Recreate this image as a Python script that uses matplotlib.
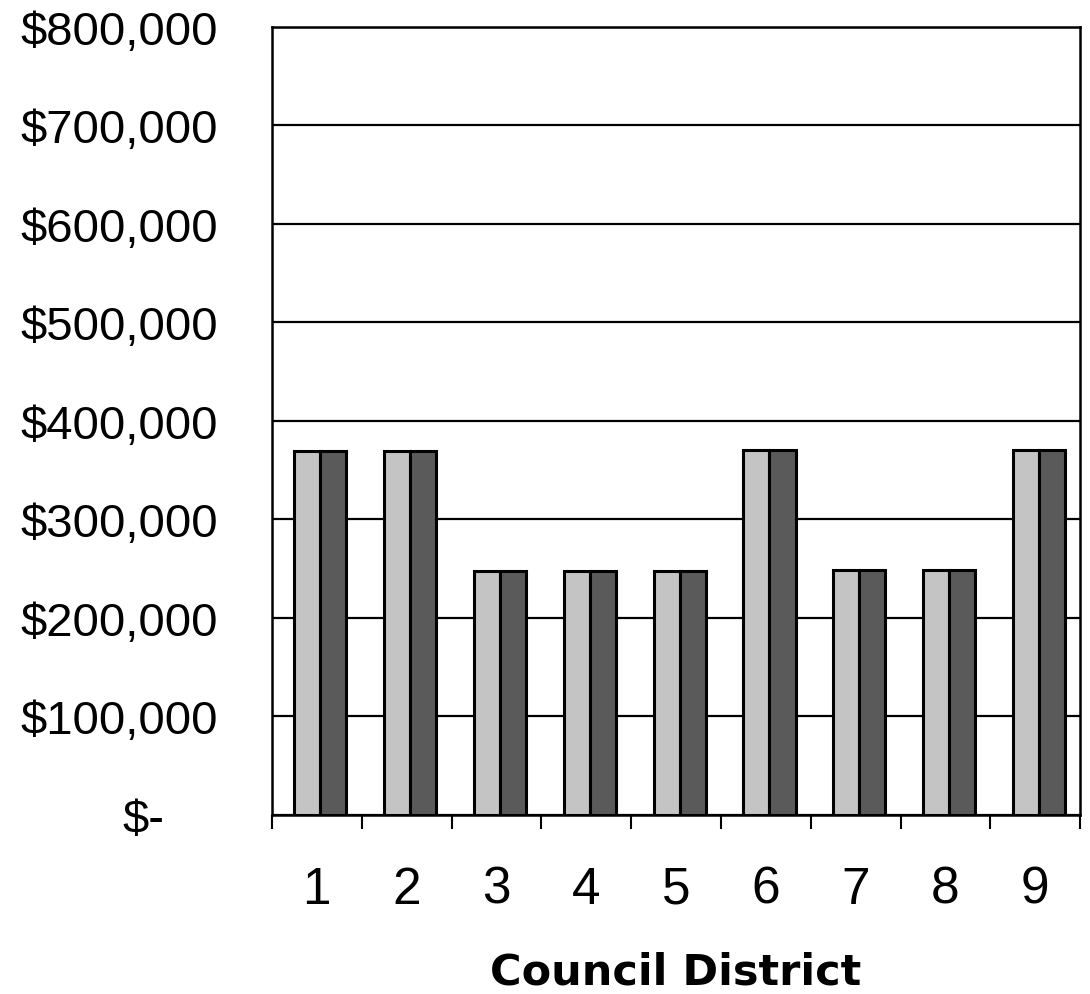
import matplotlib
matplotlib.use("Agg")
import matplotlib.pyplot as plt
import matplotlib.transforms as mtransforms
import numpy as np

districts = ["1", "2", "3", "4", "5", "6", "7", "8", "9"]
series_a = [370000, 370000, 248000, 248000, 248000, 371000, 249000, 249000, 371000]
series_b = [370000, 370000, 248000, 248000, 248000, 371000, 249000, 249000, 371000]
y_ticks = [0, 100000, 200000, 300000, 400000, 500000, 600000, 700000, 800000]
y_labels = ["$-", "$100,000", "$200,000", "$300,000", "$400,000",
            "$500,000", "$600,000", "$700,000", "$800,000"]

plt.rcParams['font.family'] = ['Liberation Sans', 'DejaVu Sans']

fig = plt.figure(figsize=(10.9, 9.95), dpi=100)
ax = fig.add_axes([0.2495, 0.1799, 0.7415, 0.792])

x = np.arange(len(districts))
w = 0.29
off = 0.04
ax.bar(x + off - w / 2, series_a, width=w, color="#c4c4c4", edgecolor="black", linewidth=2.2, zorder=3)
ax.bar(x + off + w / 2, series_b, width=w, color="#5a5a5a", edgecolor="black", linewidth=2.2, zorder=3)

ax.set_xlim(-0.5, len(districts) - 0.5)
ax.set_ylim(0, 800000)
ax.set_yticks(y_ticks)
ax.set_yticklabels(y_labels)
ax.yaxis.grid(True, color="black", linewidth=1.6, zorder=0)
ax.set_axisbelow(True)
ax.tick_params(axis="y", length=0, pad=39, labelsize=34)

ax.set_xticks(x)
ax.set_xticklabels(districts)
ax.tick_params(axis="x", which="major", length=0, pad=36, labelsize=37)
ax.set_xticks(np.arange(-0.5, len(districts)), minor=True)
ax.tick_params(axis="x", which="minor", length=10, width=1.5, direction="out", color="black")

for s in ax.spines.values():
    s.set_linewidth(1.8)
    s.set_color("black")

ax.set_xlabel("Council District", fontsize=31, fontweight="bold",
              family=["DejaVu Sans"], va="bottom")
ax.xaxis.set_label_coords(0.5, -(993 - 816) / 788)

fig.canvas.draw()
zero_lbl = ax.get_yticklabels()[0]
zero_lbl.set_transform(zero_lbl.get_transform() +
                       mtransforms.ScaledTranslation(-53 / 100, 0, fig.dpi_scale_trans))

fig.savefig("out.png", dpi=100, facecolor="white")
